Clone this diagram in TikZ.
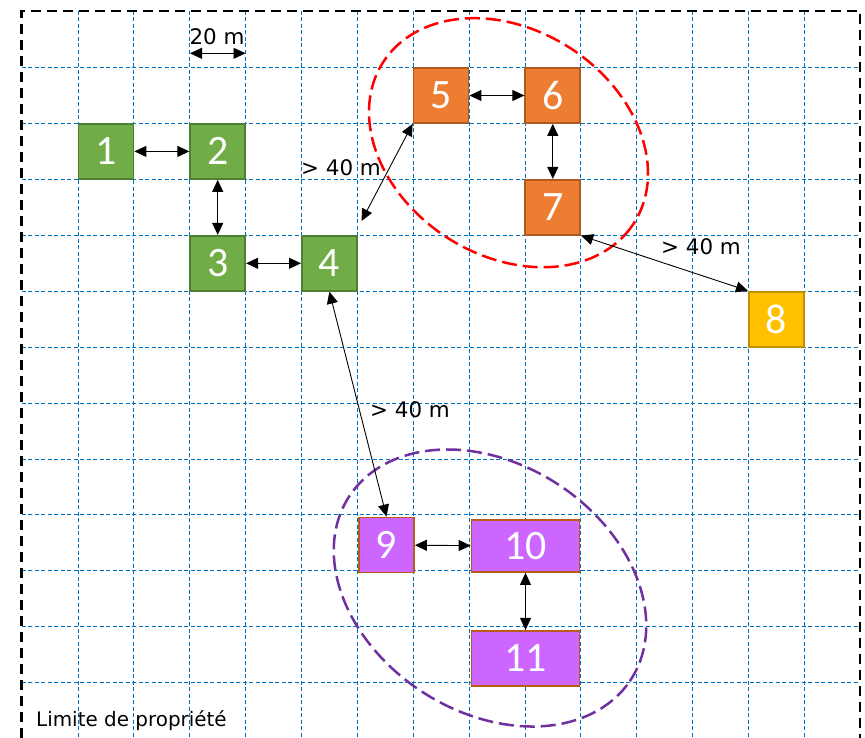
\documentclass[tikz,border=0pt]{standalone}
\usepackage{fontspec}
\setmainfont{DejaVu Sans}
\newfontfamily\numfont{Carlito}
\usetikzlibrary{arrows.meta}
\definecolor{gridblue}{HTML}{0070C0}
\definecolor{gfill}{HTML}{70AD47}
\definecolor{gdraw}{HTML}{507E32}
\definecolor{ofill}{HTML}{ED7D31}
\definecolor{odraw}{HTML}{AE5A21}
\definecolor{yfill}{HTML}{FFC000}
\definecolor{ydraw}{HTML}{BF9000}
\definecolor{pfill}{HTML}{CC66FF}
\definecolor{pdraw}{HTML}{B85C1A}
\definecolor{ellred}{HTML}{FF0000}
\definecolor{ellpurple}{HTML}{7030A0}
\begin{document}
\begin{tikzpicture}[x=1bp,y=-1bp,
  gridline/.style={draw=gridblue, line width=0.9bp, dash pattern=on 4bp off 2.5bp},
  border/.style={draw=black, line width=2.4bp, dash pattern=on 10bp off 6bp},
  box/.style={draw, line width=1.8bp, minimum width=55bp, minimum height=55bp, inner sep=0pt, text=white, font=\numfont\fontsize{42}{48}\selectfont},
  gbox/.style={box, fill=gfill, draw=gdraw},
  obox/.style={box, fill=ofill, draw=odraw},
  ybox/.style={box, fill=yfill, draw=ydraw},
  pbox/.style={box, fill=pfill, draw=pdraw},
  link/.style={draw=black, line width=0.9bp, {Triangle[length=12bp,width=11bp]}-{Triangle[length=12bp,width=11bp]}},
  lbl/.style={font=\fontsize{21.5}{25}\selectfont, inner sep=0pt, text=black},
  ell/.style={line width=2.5bp, dash pattern=on 15bp off 6bp}
]
\useasboundingbox (0,0) rectangle (865,738);
% grid
\foreach \i in {0,...,13} \draw[gridline] ({78+55.87*\i},11) -- ({78+55.87*\i},738);
\foreach \j in {0,...,11} \draw[gridline] (21.5,{67.5+55.93*\j}) -- (860,{67.5+55.93*\j});
% property border
\draw[border] (21.5,738) -- (21.5,11) -- (860,11) -- (860,738);
% groups
\draw[ell, draw=ellred] plot[domain=0:357, samples=120, smooth cycle, variable=\t]
  ({508.5+149*cos(\t)*cos(32.6)-113*sin(\t)*sin(32.6)}, {142.7+149*cos(\t)*sin(32.6)+113*sin(\t)*cos(32.6)});
\draw[ell, draw=ellpurple] plot[domain=0:357, samples=120, smooth cycle, variable=\t]
  ({490+168*cos(\t)*cos(33)-124*sin(\t)*sin(33)}, {588+168*cos(\t)*sin(33)+124*sin(\t)*cos(33)});
% boxes
\node[gbox] (b1) at (106,151.4) {1};
\node[gbox] (b2) at (217.7,151.4) {2};
\node[gbox] (b3) at (217.7,263.3) {3};
\node[gbox] (b4) at (329.4,263.3) {4};
\node[obox] (b5) at (441,95.5) {5};
\node[obox] (b6) at (552.8,95.5) {6};
\node[obox] (b7) at (552.8,207.3) {7};
\node[ybox] (b8) at (776.3,319.2) {8};
\node[pbox] (b9) at (386.5,545) {9};
\node[pbox, minimum width=108bp, minimum height=52bp] (b10) at (525.5,546) {10};
\node[pbox, minimum width=108bp, minimum height=55bp] (b11) at (525.5,658.3) {11};
% scale
\coordinate (s1) at (190,53.3);
\coordinate (s2) at (245.5,53.3);
\draw[link] (s1) -- (s2);
\node[lbl] (t20) at (217,37) {20 m};
% links
\draw[link] (b1) -- (b2);
\draw[link] (b2) -- (b3);
\draw[link] (b3) -- (b4);
\draw[link] (b5) -- (b6);
\draw[link] (b6) -- (b7);
\draw[link] (b9) -- (b10);
\draw[link] (b10) -- (b11);
\coordinate (c45) at (361.5,221);
\draw[link] (c45) -- (b5.south west);
\draw[link] (b7.south east) -- (b8.north west);
\draw[link] (b4.south) -- (b9.north);
% labels
\node[lbl] (t1) at (341,168) {> 40 m};
\node[lbl] (t2) at (701,247) {> 40 m};
\node[lbl] (t3) at (410,410) {> 40 m};
\node[lbl, font=\fontsize{20}{24}\selectfont, anchor=base west] (tlim) at (36,726.5) {Limite de propriété};
\end{tikzpicture}
\end{document}
